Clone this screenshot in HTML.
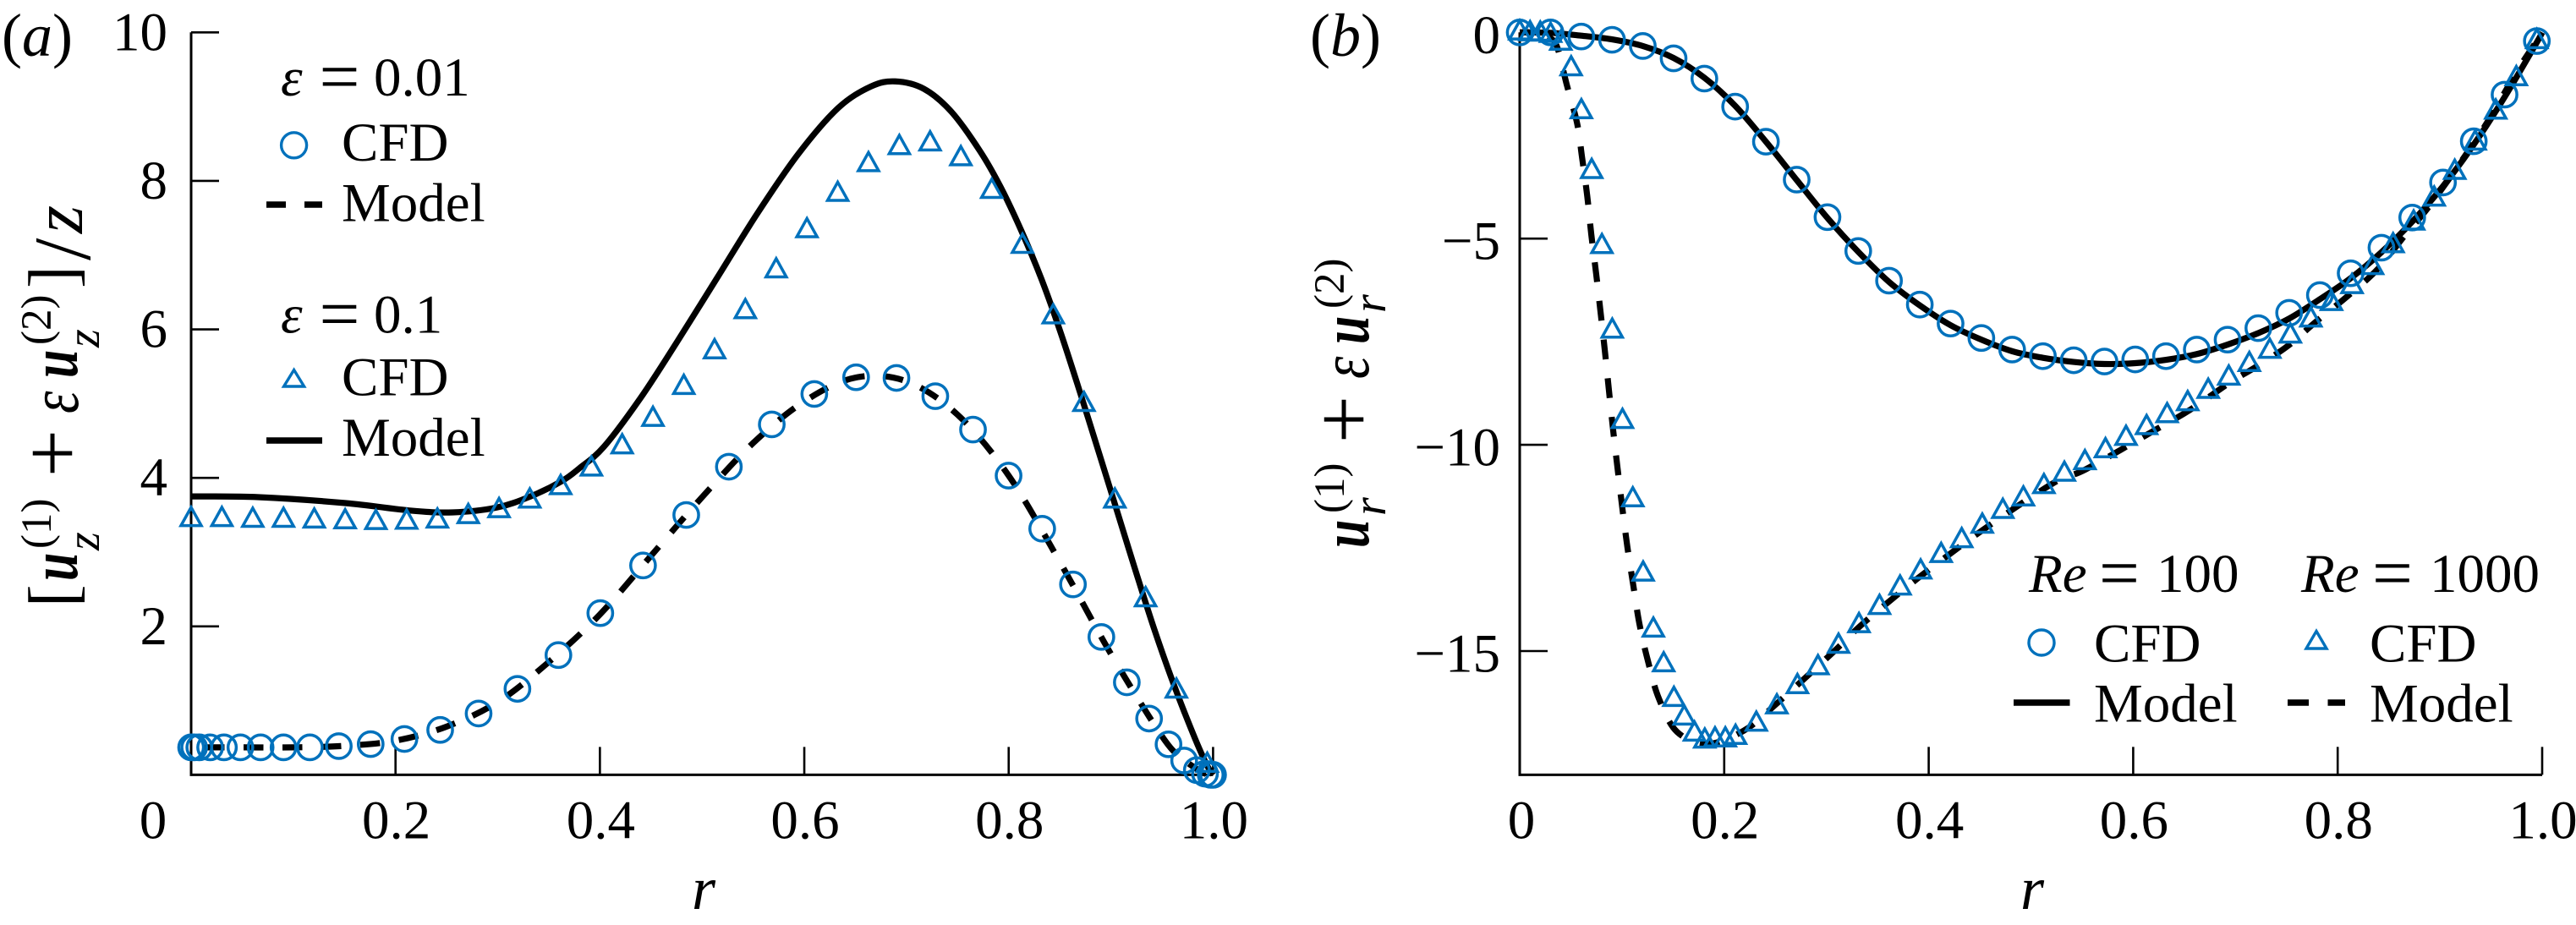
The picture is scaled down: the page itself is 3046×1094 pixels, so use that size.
<!DOCTYPE html>
<html lang="en">
<head>
<meta charset="utf-8">
<title>Velocity profiles: CFD vs Model</title>
<style>
html,body{margin:0;padding:0;background:#fff;}
svg{display:block;}
text{font-family:"Liberation Serif",serif;fill:#000;}
.i{font-style:italic;}
.bi{font-style:italic;font-weight:bold;}
</style>
</head>
<body>
<svg id="chart" xmlns="http://www.w3.org/2000/svg" width="3046" height="1094" viewBox="0 0 3046 1094">
  <rect x="0" y="0" width="3046" height="1094" fill="#fff"/>

  <g id="panelA"></g>
  <g id="panelB"></g>

  <!-- Panel letters -->
  <text x="2" y="66" font-size="72">(<tspan class="i">a</tspan>)</text>
  <text x="1549" y="66" font-size="72">(<tspan class="i">b</tspan>)</text>

  <!-- Axis titles -->
  <text x="818" y="1075" font-size="72" class="i">r</text>
  <text x="2389" y="1075" font-size="72" class="i">r</text>

  <g>
    <text transform="translate(89,718) rotate(-90)" font-size="80">[</text>
    <text transform="translate(91,687) rotate(-90) scale(0.75,1)" font-size="80" class="bi">u</text>
    <text transform="translate(60,649) rotate(-90)" font-size="51">(1)</text>
    <text transform="translate(117,651) rotate(-90)" font-size="56" class="i">z</text>
    <text transform="translate(95,536) rotate(-90)" font-size="100" text-anchor="middle">+</text>
    <text transform="translate(92,489) rotate(-90) scale(0.8,1)" font-size="84" class="i">ε</text>
    <text transform="translate(91,447) rotate(-90) scale(0.75,1)" font-size="80" class="bi">u</text>
    <text transform="translate(60,408) rotate(-90)" font-size="51">(2)</text>
    <text transform="translate(117,411) rotate(-90)" font-size="56" class="i">z</text>
    <text transform="translate(89,341) rotate(-90)" font-size="80">]</text>
    <text transform="translate(106,308) rotate(-90)" font-size="95">/</text>
    <text transform="translate(97,276) rotate(-90)" font-size="85" class="i">z</text>
  </g>

  <g>
    <text transform="translate(1618,648) rotate(-90) scale(0.75,1)" font-size="80" class="bi">u</text>
    <text transform="translate(1589,607) rotate(-90)" font-size="51">(1)</text>
    <text transform="translate(1638,610) rotate(-90)" font-size="56" class="i">r</text>
    <text transform="translate(1622,496) rotate(-90)" font-size="100" text-anchor="middle">+</text>
    <text transform="translate(1618,448) rotate(-90) scale(0.8,1)" font-size="84" class="i">ε</text>
    <text transform="translate(1618,407) rotate(-90) scale(0.75,1)" font-size="80" class="bi">u</text>
    <text transform="translate(1589,365) rotate(-90)" font-size="51">(2)</text>
    <text transform="translate(1638,370) rotate(-90)" font-size="56" class="i">r</text>
  </g>

  <!-- Legend, panel a -->
  <g>
    <text x="332" y="113" font-size="65" class="i">ε</text>
    <text x="377.5" y="119" font-size="85">=</text>
    <text x="442" y="113" font-size="65">0.01</text>
    <circle cx="347.6" cy="171.8" r="15" fill="none" stroke="#0071bc" stroke-width="3.4"/>
    <text x="404" y="190" font-size="65">CFD</text>
    <line x1="315" y1="242" x2="338" y2="242" stroke="#000" stroke-width="7.5"/>
    <line x1="360" y1="242" x2="381" y2="242" stroke="#000" stroke-width="7.5"/>
    <text x="404" y="261.5" font-size="65">Model</text>
    <text x="332" y="393.5" font-size="65" class="i">ε</text>
    <text x="377.5" y="399.5" font-size="85">=</text>
    <text x="442" y="393.5" font-size="65">0.1</text>
    <path d="M347.6 437.5 L359.6 457 L335.6 457 Z" fill="none" stroke="#0071bc" stroke-width="3.4"/>
    <text x="404" y="467.7" font-size="65">CFD</text>
    <line x1="315" y1="521" x2="381" y2="521" stroke="#000" stroke-width="7.5"/>
    <text x="404" y="539" font-size="65">Model</text>
  </g>

  <!-- Legend, panel b -->
  <g>
    <text x="2399" y="700" font-size="65" class="i">Re</text>
    <text x="2482" y="706" font-size="85">=</text>
    <text x="2550" y="700" font-size="65">100</text>
    <text x="2721" y="700" font-size="65" class="i">Re</text>
    <text x="2805" y="706" font-size="85">=</text>
    <text x="2873" y="700" font-size="65">1000</text>
    <circle cx="2414" cy="760" r="15" fill="none" stroke="#0071bc" stroke-width="3.4"/>
    <text x="2476" y="782.5" font-size="65">CFD</text>
    <path d="M2739 746.5 L2751 767 L2727 767 Z" fill="none" stroke="#0071bc" stroke-width="3.4"/>
    <text x="2802" y="782.5" font-size="65">CFD</text>
    <line x1="2381" y1="831" x2="2447.5" y2="831" stroke="#000" stroke-width="7.5"/>
    <text x="2476" y="853.6" font-size="65">Model</text>
    <line x1="2705" y1="831" x2="2730" y2="831" stroke="#000" stroke-width="7.5"/>
    <line x1="2752.5" y1="831" x2="2773" y2="831" stroke="#000" stroke-width="7.5"/>
    <text x="2802" y="853.6" font-size="65">Model</text>
  </g>
</svg>

<script>
// ---------- Tick labels ----------
var xTicks = [0.2, 0.4, 0.6, 0.8, 1.0];
var xTickLabels = ['0', '0.2', '0.4', '0.6', '0.8', '1.0'];
var xLabelValues = [0, 0.2, 0.4, 0.6, 0.8, 1.0];
var yTicksA = [2, 4, 6, 8, 10];
var yTickLabelsA = ['2', '4', '6', '8', '10'];
var yTicksB = [0, -5, -10, -15];
var yTickLabelsB = ['0', '\u22125', '\u221210', '\u221215'];

// ---------- Panel a: epsilon = 0.1 ----------
var aTriR = [0,0.0301,0.0603,0.0904,0.1205,0.1507,0.1808,0.2109,0.241,0.2712,0.3013,0.3314,0.3616,0.3917,0.4218,0.4519,0.4821,0.5122,0.5423,0.5725,0.6026,0.6327,0.6628,0.693,0.7231,0.7532,0.7834,0.8135,0.8436,0.8737,0.9039,0.934,0.9641,0.9943];
var aTriV = [3.49,3.49,3.48,3.48,3.47,3.46,3.45,3.455,3.47,3.53,3.61,3.74,3.92,4.17,4.47,4.84,5.27,5.75,6.29,6.84,7.38,7.87,8.27,8.5,8.55,8.35,7.91,7.17,6.22,5.04,3.74,2.41,1.18,0.18];
var aSolidR = [0,0.066,0.151,0.214,0.256,0.299,0.332,0.362,0.38,0.404,0.44,0.475,0.515,0.554,0.594,0.633,0.665,0.689,0.717,0.744,0.772,0.792,0.812,0.832,0.851,0.871,0.891,0.905,0.923,0.942,0.962,0.982,0.994,1];
var aSolidV = [3.75,3.74,3.66,3.56,3.535,3.6,3.75,3.95,4.13,4.42,5.08,5.82,6.7,7.56,8.36,8.98,9.27,9.34,9.24,8.93,8.4,7.92,7.34,6.68,5.95,5.1,4.22,3.6,2.8,1.98,1.2,0.5,0.13,0];

// ---------- Panel a: epsilon = 0.01 ----------
var aCircR = [0,0.003,0.008,0.0186,0.0321,0.0482,0.068,0.0904,0.1162,0.1445,0.1757,0.2087,0.2437,0.2813,0.3193,0.3594,0.4004,0.4422,0.4845,0.5262,0.5682,0.6098,0.6507,0.6902,0.7282,0.7651,0.7999,0.8328,0.8629,0.8907,0.9156,0.9374,0.9564,0.9717,0.9841,0.9921,0.9977,1];
var aCircV = [0.37,0.37,0.37,0.37,0.37,0.37,0.37,0.37,0.37,0.387,0.414,0.483,0.605,0.826,1.158,1.613,2.178,2.82,3.5,4.15,4.72,5.13,5.355,5.346,5.1,4.65,4.03,3.315,2.565,1.857,1.246,0.758,0.411,0.193,0.063,0.016,0,0];
var aDashR = [0,0.05,0.1,0.15,0.2,0.25,0.3,0.35,0.4,0.45,0.5,0.55,0.6,0.65,0.7,0.75,0.8,0.85,0.9,0.95,0.97,0.99,1];
var aDashV = [0.37,0.37,0.37,0.39,0.46,0.65,0.98,1.52,2.16,2.95,3.74,4.47,5.03,5.35,5.3,4.85,4.03,2.87,1.63,0.52,0.22,0.03,0];

// ---------- Panel b: Re = 100 ----------
var bCircR = [0,0.0301,0.0602,0.0903,0.1204,0.1505,0.1806,0.2107,0.2408,0.2709,0.301,0.3311,0.3612,0.3913,0.4214,0.4515,0.4816,0.5117,0.5418,0.5719,0.602,0.6321,0.6622,0.6923,0.7224,0.7525,0.7826,0.8127,0.8428,0.8729,0.903,0.9331,0.9632,0.9948];
var bCircV = [0,0,-0.1,-0.18,-0.33,-0.63,-1.12,-1.8,-2.65,-3.57,-4.48,-5.3,-6.02,-6.6,-7.06,-7.41,-7.69,-7.85,-7.95,-7.98,-7.93,-7.85,-7.69,-7.45,-7.17,-6.8,-6.37,-5.84,-5.22,-4.49,-3.64,-2.64,-1.51,-0.21];
var bSolidR = [0,0.0301,0.0602,0.0903,0.1204,0.1505,0.1806,0.2107,0.2408,0.2709,0.301,0.3311,0.3612,0.3913,0.4214,0.4515,0.4816,0.5117,0.5418,0.5719,0.602,0.6321,0.6622,0.6923,0.7224,0.7525,0.7826,0.8127,0.8428,0.8729,0.903,0.9331,0.9632,0.9948,1];
var bSolidV = [0,-0.01,-0.08,-0.17,-0.33,-0.62,-1.1,-1.78,-2.65,-3.58,-4.5,-5.32,-6.05,-6.62,-7.1,-7.45,-7.73,-7.89,-7.99,-8.04,-8.02,-7.94,-7.8,-7.57,-7.29,-6.94,-6.47,-5.96,-5.33,-4.59,-3.73,-2.72,-1.57,-0.24,0];

// ---------- Panel b: Re = 1000 ----------
var bTriR = [0,0.0101,0.0201,0.0302,0.0402,0.0503,0.0603,0.0704,0.0804,0.0905,0.1005,0.1106,0.1207,0.1307,0.1408,0.1508,0.1609,0.1709,0.181,0.191,0.2011,0.2111,0.2314,0.2515,0.2716,0.2917,0.3118,0.3318,0.3519,0.372,0.3921,0.4122,0.4323,0.4524,0.4725,0.4926,0.5127,0.5327,0.5528,0.5729,0.593,0.6131,0.6332,0.6533,0.6734,0.6935,0.7136,0.7336,0.7537,0.7738,0.7939,0.814,0.8341,0.8542,0.8743,0.8944,0.9145,0.9345,0.9546,0.9747,0.9948];
var bTriV = [0.08,0.06,0.05,0.02,-0.17,-0.79,-1.83,-3.28,-5.1,-7.15,-9.34,-11.24,-13.04,-14.4,-15.24,-16.08,-16.53,-16.92,-17.09,-17.06,-17.06,-17,-16.68,-16.26,-15.77,-15.31,-14.79,-14.29,-13.85,-13.38,-12.99,-12.59,-12.23,-11.88,-11.52,-11.22,-10.92,-10.62,-10.34,-10.05,-9.75,-9.49,-9.2,-8.91,-8.61,-8.29,-7.96,-7.64,-7.27,-6.88,-6.48,-6.07,-5.61,-5.08,-4.53,-3.95,-3.3,-2.59,-1.84,-1.03,-0.13];
var bDashR = [0,0.015,0.03,0.0371,0.0458,0.0561,0.0609,0.066,0.07,0.0747,0.0791,0.0834,0.0873,0.0913,0.0957,0.1004,0.1052,0.1111,0.117,0.1254,0.1361,0.1539,0.1835,0.2192,0.2506,0.306,0.334,0.3735,0.405,0.4554,0.5224,0.5539,0.6208,0.6563,0.6957,0.7194,0.7508,0.7785,0.8099,0.8395,0.8651,0.8887,0.9205,0.9478,0.9754,0.9949,1];
var bDashV = [0,-0.01,-0.14,-0.39,-1.25,-2.2,-3.02,-3.96,-4.9,-5.84,-6.79,-7.75,-8.69,-9.63,-10.57,-11.54,-12.46,-13.41,-14.33,-15.24,-16.15,-16.96,-17.25,-16.93,-16.29,-15.04,-14.37,-13.55,-12.94,-12.02,-10.92,-10.59,-9.65,-9.14,-8.47,-8.12,-7.61,-7.02,-6.39,-5.73,-4.94,-4.24,-3.14,-2.12,-0.94,-0.2,0];

// ---------- Axis functions ----------
function xA(r){ return 226 + 1208.4 * r; }
function yA(v){ return 916.4 - 87.81 * v; }
function xB(r){ return 1797 + 1209 * r; }
function yB(v){ return 38.3 - 48.78 * v; }

var NS = 'http://www.w3.org/2000/svg';
var BLUE = '#0071bc';

function make(tag, attrs, parent){
  var el = document.createElementNS(NS, tag);
  for (var k in attrs) el.setAttribute(k, attrs[k]);
  parent.appendChild(el);
  return el;
}

function smoothPath(rs, vs, fx, fy){
  var p = rs.map(function(r, i){ return [fx(r), fy(vs[i])]; });
  var d = 'M' + p[0][0].toFixed(2) + ' ' + p[0][1].toFixed(2);
  for (var i = 0; i < p.length - 1; i++){
    var a = p[Math.max(0, i - 1)], b = p[i], c = p[i + 1], e = p[Math.min(p.length - 1, i + 2)];
    var c1x = b[0] + (c[0] - a[0]) / 6, c1y = b[1] + (c[1] - a[1]) / 6;
    var c2x = c[0] - (e[0] - b[0]) / 6, c2y = c[1] - (e[1] - b[1]) / 6;
    d += 'C' + c1x.toFixed(2) + ' ' + c1y.toFixed(2) + ' ' + c2x.toFixed(2) + ' ' + c2y.toFixed(2) + ' ' + c[0].toFixed(2) + ' ' + c[1].toFixed(2);
  }
  return d;
}

function drawCurve(parent, rs, vs, fx, fy, dashed, name){
  var attrs = {d: smoothPath(rs, vs, fx, fy), fill: 'none', stroke: '#000', 'stroke-width': 7.2, 'stroke-linejoin': 'round'};
  if (dashed){
    attrs['stroke-dasharray'] = '23.5 22.5';
    attrs['stroke-dashoffset'] = dashed;
  }
  var el = make('path', attrs, parent);
  
  
}

function drawCircles(parent, rs, vs, fx, fy, name){
  for (var i = 0; i < rs.length; i++){
    var el = make('circle', {cx: fx(rs[i]), cy: fy(vs[i]), r: 14.6, fill: 'none', stroke: BLUE, 'stroke-width': 3.5}, parent);
    
    
  }
}

function drawTriangles(parent, rs, vs, fx, fy, name){
  for (var i = 0; i < rs.length; i++){
    var x = fx(rs[i]), y = fy(vs[i]);
    var d = 'M' + x.toFixed(2) + ' ' + (y - 9.9).toFixed(2) + 'L' + (x + 12).toFixed(2) + ' ' + (y + 11.7).toFixed(2) + 'L' + (x - 12).toFixed(2) + ' ' + (y + 11.7).toFixed(2) + 'Z';
    var el = make('path', {d: d, fill: 'none', stroke: BLUE, 'stroke-width': 3.5}, parent);
    
    
  }
}

function drawAxes(parent, fx, fy, yTop, yBottom, yVals, yLabels, yRight, yOff, prefix, zeroX){
  var spine = make('path', {d: 'M' + fx(0) + ' ' + fy(yTop) + 'L' + fx(0) + ' ' + fy(yBottom) + 'L' + fx(1) + ' ' + fy(yBottom), fill: 'none', stroke: '#000', 'stroke-width': 3}, parent);
  
  

  xTicks.forEach(function(v){
    var t = make('line', {x1: fx(v), x2: fx(v), y1: fy(yBottom), y2: fy(yBottom) - 33, stroke: '#000', 'stroke-width': 2.6}, parent);
    
    
  });
  yVals.forEach(function(v){
    var t = make('line', {x1: fx(0), x2: fx(0) + 33, y1: fy(v), y2: fy(v), stroke: '#000', 'stroke-width': 2.6}, parent);
    
    
  });
  xLabelValues.forEach(function(v, i){
    var tx = make('text', {x: i === 0 ? zeroX : fx(v) + 1, y: 991.7, 'font-size': 65, 'text-anchor': 'middle'}, parent);
    tx.textContent = xTickLabels[i];
    
    
  });
  yVals.forEach(function(v, i){
    var tx = make('text', {x: yRight, y: fy(v) + yOff, 'font-size': 65, 'text-anchor': 'end'}, parent);
    tx.textContent = yLabels[i];
    
    
  });
}

var gA = document.getElementById('panelA');
drawAxes(gA, xA, yA, 10, 0, yTicksA, yTickLabelsA, 198, 21, 'panel-a', 181);
drawCurve(gA, aSolidR, aSolidV, xA, yA, 0, 'model-line-eps-0-1');
drawCurve(gA, aDashR, aDashV, xA, yA, 30, 'model-line-eps-0-01');
drawTriangles(gA, aTriR, aTriV, xA, yA, 'cfd-point-eps-0-1');
drawCircles(gA, aCircR, aCircV, xA, yA, 'cfd-point-eps-0-01');

var gB = document.getElementById('panelB');
drawAxes(gB, xB, yB, 0, -18, yTicksB, yTickLabelsB, 1774, 24.5, 'panel-b', 1799);
drawCurve(gB, bSolidR, bSolidV, xB, yB, 0, 'model-line-re-100');
drawCurve(gB, bDashR, bDashV, xB, yB, 12, 'model-line-re-1000');
drawTriangles(gB, bTriR, bTriV, xB, yB, 'cfd-point-re-1000');
drawCircles(gB, bCircR, bCircV, xB, yB, 'cfd-point-re-100');
</script>
</body>
</html>
